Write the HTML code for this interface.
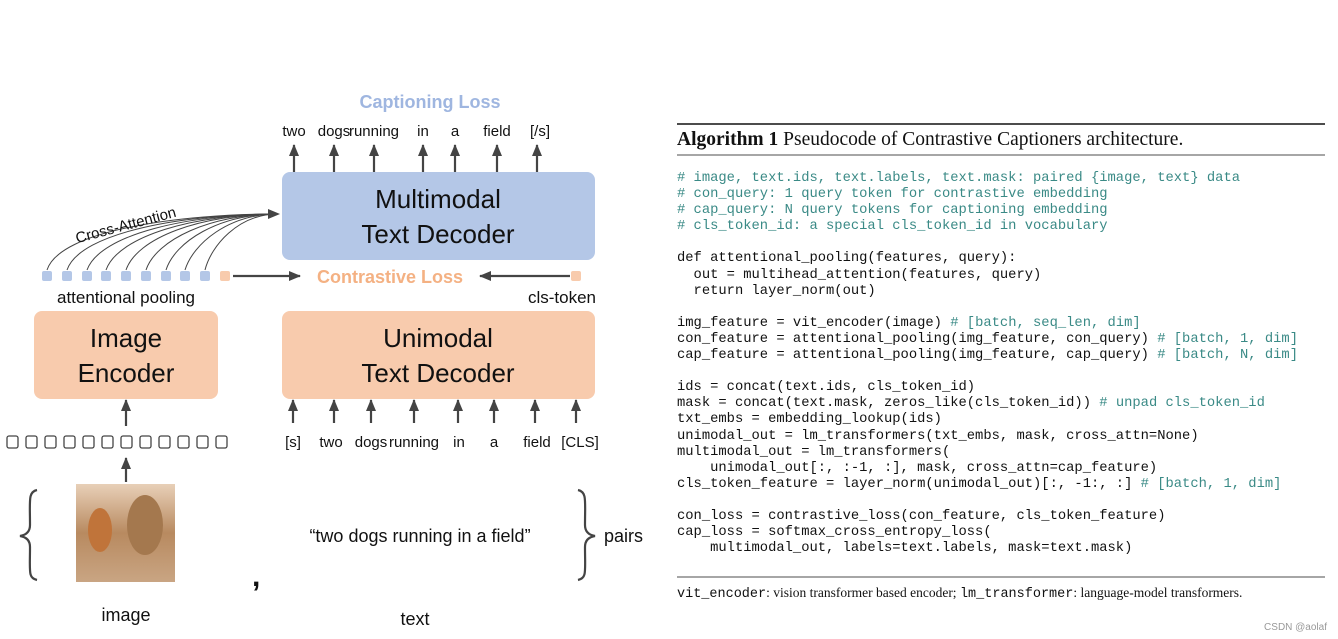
<!DOCTYPE html>
<html><head><meta charset="utf-8"><style>
body{margin:0;width:1338px;height:639px;background:#fff;position:relative;overflow:hidden;font-family:"Liberation Sans",sans-serif}
.code{position:absolute;left:677px;top:171px;font-family:"Liberation Mono",monospace;font-size:13.8px;line-height:16.1px;white-space:pre;color:#111}
.c{color:#3a8a86}
</style></head><body>
<svg width="1338" height="639" style="position:absolute;left:0;top:0" font-family="Liberation Sans, sans-serif">
<defs><marker id="a" markerWidth="8" markerHeight="8" refX="7" refY="4" orient="auto" markerUnits="userSpaceOnUse"><path d="M0,0 L8,4 L0,8 Z" fill="#444"/></marker>
<marker id="b" markerWidth="12" markerHeight="10" refX="11" refY="5" orient="auto" markerUnits="userSpaceOnUse"><path d="M0,0 L12,5 L0,10 Z" fill="#444"/></marker>
<linearGradient id="g" x1="0" y1="0" x2="0" y2="1"><stop offset="0" stop-color="#e8d0b8"/><stop offset="0.5" stop-color="#b88a60"/><stop offset="1" stop-color="#c9a583"/></linearGradient></defs>
<text x="430" y="108" text-anchor="middle" font-size="18" font-weight="bold" fill="#9fb6e0">Captioning Loss</text>
<g font-size="15" fill="#111" text-anchor="middle">
<text x="294" y="136">two</text><text x="334" y="136">dogs</text><text x="374" y="136">running</text><text x="423" y="136">in</text><text x="455" y="136">a</text><text x="497" y="136">field</text><text x="540" y="136">[/s]</text></g>
<g stroke="#444" stroke-width="2.2" marker-end="url(#b)">
<line x1="294" y1="172" x2="294" y2="145"/><line x1="334" y1="172" x2="334" y2="145"/><line x1="374" y1="172" x2="374" y2="145"/><line x1="423" y1="172" x2="423" y2="145"/><line x1="455" y1="172" x2="455" y2="145"/><line x1="497" y1="172" x2="497" y2="145"/><line x1="537" y1="172" x2="537" y2="145"/></g>
<rect x="282" y="172" width="313" height="88" rx="8" fill="#b4c7e7"/>
<text x="438" y="208" text-anchor="middle" font-size="26" fill="#111">Multimodal</text>
<text x="438" y="243" text-anchor="middle" font-size="26" fill="#111">Text Decoder</text>
<g fill="none" stroke="#444" stroke-width="1">
<path d="M47,270 C60,230 180,214 278,214"/><path d="M67,270 C80,232 185,214 278,214"/><path d="M87,270 C100,234 190,214 278,214"/><path d="M106,270 C118,236 195,214 278,214"/><path d="M126,270 C137,238 200,214 278,214"/><path d="M146,270 C156,240 210,214 278,214"/><path d="M166,270 C175,242 218,214 278,214"/><path d="M185,270 C193,244 228,214 278,214"/><path d="M205,270 C211,246 238,214 278,214"/></g>
<path d="M268,209 L280,214 L268,219 Z" fill="#444"/>
<text x="126" y="230" text-anchor="middle" font-size="15" fill="#111" transform="rotate(-15 126 226)">Cross-Attention</text>
<g fill="#b4c7e7"><rect x="42" y="271" width="10" height="10" rx="2"/><rect x="62" y="271" width="10" height="10" rx="2"/><rect x="82" y="271" width="10" height="10" rx="2"/><rect x="101" y="271" width="10" height="10" rx="2"/><rect x="121" y="271" width="10" height="10" rx="2"/><rect x="141" y="271" width="10" height="10" rx="2"/><rect x="161" y="271" width="10" height="10" rx="2"/><rect x="180" y="271" width="10" height="10" rx="2"/><rect x="200" y="271" width="10" height="10" rx="2"/></g>
<rect x="220" y="271" width="10" height="10" rx="2" fill="#f8cbad"/><rect x="571" y="271" width="10" height="10" rx="2" fill="#f8cbad"/>
<line x1="233" y1="276" x2="300" y2="276" stroke="#444" stroke-width="2.2" marker-end="url(#b)"/>
<line x1="570" y1="276" x2="480" y2="276" stroke="#444" stroke-width="2.2" marker-end="url(#b)"/>
<text x="390" y="283" text-anchor="middle" font-size="18" font-weight="bold" fill="#f4b183">Contrastive Loss</text>
<text x="126" y="303" text-anchor="middle" font-size="17" fill="#111">attentional pooling</text>
<text x="562" y="303" text-anchor="middle" font-size="17" fill="#111">cls-token</text>
<rect x="34" y="311" width="184" height="88" rx="8" fill="#f8cbad"/>
<text x="126" y="347" text-anchor="middle" font-size="26" fill="#111">Image</text>
<text x="126" y="382" text-anchor="middle" font-size="26" fill="#111">Encoder</text>
<rect x="282" y="311" width="313" height="88" rx="8" fill="#f8cbad"/>
<text x="438" y="347" text-anchor="middle" font-size="26" fill="#111">Unimodal</text>
<text x="438" y="382" text-anchor="middle" font-size="26" fill="#111">Text Decoder</text>
<g stroke="#444" stroke-width="2.2" marker-end="url(#b)">
<line x1="293" y1="423" x2="293" y2="400"/><line x1="334" y1="423" x2="334" y2="400"/><line x1="371" y1="423" x2="371" y2="400"/><line x1="414" y1="423" x2="414" y2="400"/><line x1="458" y1="423" x2="458" y2="400"/><line x1="494" y1="423" x2="494" y2="400"/><line x1="535" y1="423" x2="535" y2="400"/><line x1="576" y1="423" x2="576" y2="400"/>
<line x1="126" y1="426" x2="126" y2="400"/><line x1="126" y1="482" x2="126" y2="458"/></g>
<g font-size="15" fill="#111" text-anchor="middle">
<text x="293" y="447">[s]</text><text x="331" y="447">two</text><text x="371" y="447">dogs</text><text x="414" y="447">running</text><text x="459" y="447">in</text><text x="494" y="447">a</text><text x="537" y="447">field</text><text x="580" y="447">[CLS]</text></g>
<g fill="none" stroke="#444" stroke-width="1.3">
<rect x="7" y="436" width="11" height="12" rx="2"/><rect x="26" y="436" width="11" height="12" rx="2"/><rect x="45" y="436" width="11" height="12" rx="2"/><rect x="64" y="436" width="11" height="12" rx="2"/><rect x="83" y="436" width="11" height="12" rx="2"/><rect x="102" y="436" width="11" height="12" rx="2"/><rect x="121" y="436" width="11" height="12" rx="2"/><rect x="140" y="436" width="11" height="12" rx="2"/><rect x="159" y="436" width="11" height="12" rx="2"/><rect x="178" y="436" width="11" height="12" rx="2"/><rect x="197" y="436" width="11" height="12" rx="2"/><rect x="216" y="436" width="11" height="12" rx="2"/></g>
<rect x="76" y="484" width="99" height="98" fill="url(#g)"/>
<ellipse cx="100" cy="530" rx="12" ry="22" fill="#c0743a"/><ellipse cx="145" cy="525" rx="18" ry="30" fill="#a4784e"/>
<g fill="none" stroke="#444" stroke-width="2.2">
<path d="M37,490 C28,492 30,500 30,525 C30,532 26,535 20,536 C26,537 30,540 30,547 C30,572 28,578 37,580"/>
<path d="M578,490 C587,492 585,500 585,525 C585,532 589,535 595,536 C589,537 585,540 585,547 C585,572 587,578 578,580"/></g>
<text x="604" y="542" font-size="18" fill="#111">pairs</text>
<text x="420" y="542" text-anchor="middle" font-size="18" fill="#111">“two dogs running in a field”</text>
<text x="252" y="586" font-size="30" font-weight="bold" fill="#111">,</text>
<text x="126" y="621" text-anchor="middle" font-size="18" fill="#111">image</text>
<text x="415" y="625" text-anchor="middle" font-size="18" fill="#111">text</text>
<line x1="677" y1="124" x2="1325" y2="124" stroke="#111" stroke-width="1.6"/>
<line x1="677" y1="155" x2="1325" y2="155" stroke="#111" stroke-width="0.8"/>
<line x1="677" y1="577" x2="1325" y2="577" stroke="#111" stroke-width="0.8"/>
<text x="677" y="145" font-family="Liberation Serif, serif" font-size="19.5" fill="#111"><tspan font-weight="bold">Algorithm 1</tspan> Pseudocode of Contrastive Captioners architecture.</text>
<text x="677" y="597" font-family="Liberation Serif, serif" font-size="13.5" fill="#111"><tspan font-family="Liberation Mono, monospace">vit_encoder</tspan>: vision transformer based encoder; <tspan font-family="Liberation Mono, monospace">lm_transformer</tspan>: language-model transformers.</text>
<text x="1327" y="630" text-anchor="end" font-size="10" fill="#999">CSDN @aolaf</text>
</svg>
<div class="code"><span class="c"># image, text.ids, text.labels, text.mask: paired {image, text} data
# con_query: 1 query token for contrastive embedding
# cap_query: N query tokens for captioning embedding
# cls_token_id: a special cls_token_id in vocabulary</span>

def attentional_pooling(features, query):
  out = multihead_attention(features, query)
  return layer_norm(out)

img_feature = vit_encoder(image) <span class="c"># [batch, seq_len, dim]</span>
con_feature = attentional_pooling(img_feature, con_query) <span class="c"># [batch, 1, dim]</span>
cap_feature = attentional_pooling(img_feature, cap_query) <span class="c"># [batch, N, dim]</span>

ids = concat(text.ids, cls_token_id)
mask = concat(text.mask, zeros_like(cls_token_id)) <span class="c"># unpad cls_token_id</span>
txt_embs = embedding_lookup(ids)
unimodal_out = lm_transformers(txt_embs, mask, cross_attn=None)
multimodal_out = lm_transformers(
    unimodal_out[:, :-1, :], mask, cross_attn=cap_feature)
cls_token_feature = layer_norm(unimodal_out)[:, -1:, :] <span class="c"># [batch, 1, dim]</span>

con_loss = contrastive_loss(con_feature, cls_token_feature)
cap_loss = softmax_cross_entropy_loss(
    multimodal_out, labels=text.labels, mask=text.mask)</div>
</body></html>
